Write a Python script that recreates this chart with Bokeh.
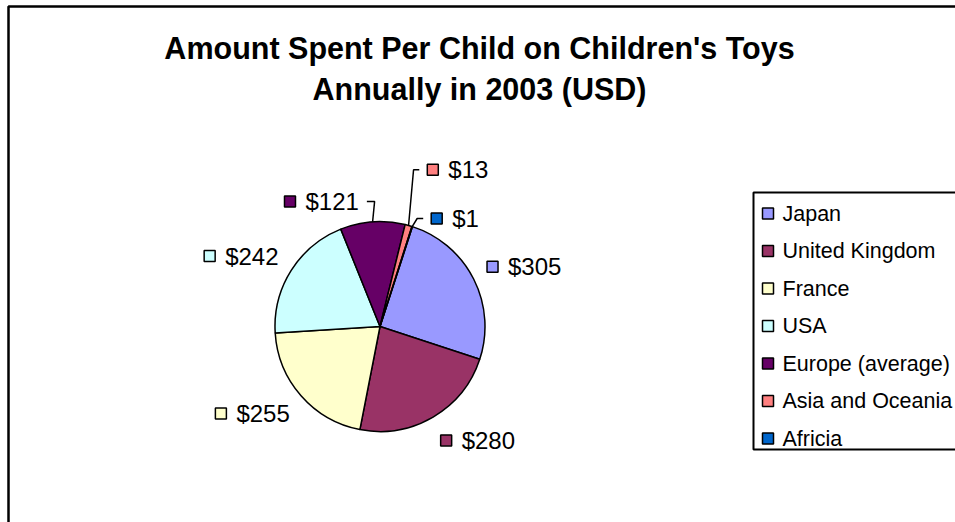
import math
from bokeh.plotting import figure
from bokeh.models import ColumnDataSource, Range1d
from bokeh.embed import file_html
from bokeh.resources import INLINE
from bokeh.core.properties import value

# ---------------- data ----------------
TITLE_LINES = ["Amount Spent Per Child on Children's Toys", "Annually in 2003 (USD)"]
CATEGORIES = ["Japan", "United Kingdom", "France", "USA",
              "Europe (average)", "Asia and Oceania", "Africia"]
VALUES = [305, 280, 255, 242, 121, 13, 1]
LABELS = ["$305", "$280", "$255", "$242", "$121", "$13", "$1"]
COLORS = ["#9999FF", "#993366", "#FFFFCC", "#CCFFFF", "#660066", "#FF8080", "#0066CC"]

# ---------------- layout / style ----------------
W, H = 955, 522


def Y(v):
    return H - v


FONT = "Liberation Sans"
CX, CY, R = 379.5, Y(326), 105
FIRST_ANGLE = 18          # first slice starts 18 deg clockwise from 12 o'clock
LABEL_R = 120             # distance of automatic data labels
LABEL_FS = 24
SQ = 11
SQ_GAP = 10
# manually moved (callout) labels: (radius, angle in degrees) of the label group centre
CALLOUT = {4: (138, 115), 5: (175, 63.6), 6: (131.5, 55.2)}

p = figure(width=W, height=H, x_range=Range1d(0, W), y_range=Range1d(0, H),
           output_backend="svg", toolbar_location=None, min_border=0,
           x_axis_type=None, y_axis_type=None, outline_line_color=None,
           background_fill_color="white", border_fill_color="white")
p.xgrid.visible = False
p.ygrid.visible = False

# chart frame (only top and left edges are visible)
p.line(x=[8, 8, W + 5], y=[Y(H + 5), Y(6), Y(6)], line_color="black", line_width=2.5)

# ---------------- title ----------------
for i, t in enumerate(TITLE_LINES):
    p.text(x=[479], y=[Y(47 + 41 * i)], text=[t], text_font=value(FONT),
           text_font_style="bold", text_font_size="30.5px", text_align="center",
           text_baseline="middle", text_color="black")

# ---------------- pie ----------------
total = float(sum(VALUES))
start = 90 - FIRST_ANGLE
starts, ends, mids = [], [], []
cum = 0.0
for v in VALUES:
    a0 = start - cum / total * 360.0
    a1 = a0 - v / total * 360.0
    cum += v
    starts.append(math.radians(a1))
    ends.append(math.radians(a0))
    mids.append(math.radians((a0 + a1) / 2))

src = ColumnDataSource(dict(start=starts, end=ends, color=COLORS, cat=CATEGORIES))
p.wedge(x=CX, y=CY, radius=R, start_angle="start", end_angle="end",
        direction="anticlock", fill_color="color", line_color="black",
        line_width=1.5, source=src)

# ---------------- data labels ----------------
sq_x, sq_y, sq_c, tx, ty, tt = [], [], [], [], [], []
lead_xs, lead_ys = [], []
for i, (lab, m) in enumerate(zip(LABELS, mids)):
    tw = len(lab) * 0.556 * LABEL_FS
    gw = SQ + SQ_GAP + tw
    gh = LABEL_FS
    if i in CALLOUT:
        r, ang = CALLOUT[i]
        gx = CX + r * math.cos(math.radians(ang))
        gy = CY + r * math.sin(math.radians(ang))
    else:
        ax = CX + LABEL_R * math.cos(m)
        ay = CY + LABEL_R * math.sin(m)
        gx = ax + math.copysign(gw / 2, math.cos(m))
        gy = ay + math.sin(m) * gh / 2
    left = gx - gw / 2
    sq_x.append(left + SQ / 2)
    sq_y.append(gy)
    sq_c.append(COLORS[i])
    tx.append(left + SQ + SQ_GAP)
    ty.append(gy)
    tt.append(lab)
    if i in CALLOUT:
        ex = CX + R * math.cos(m)
        ey = CY + R * math.sin(m)
        if gx < ex:
            sx = left + gw + 8
            elbow = ex + 2
        else:
            sx = left - 8
            elbow = ex + 5
        lead_xs.append([sx, elbow, ex])
        lead_ys.append([gy, gy, ey])

p.multi_line(xs=lead_xs, ys=lead_ys, line_color="black", line_width=1.5)
p.rect(x=sq_x, y=sq_y, width=SQ, height=SQ, fill_color=sq_c,
       line_color="black", line_width=1.5)
p.text(x=tx, y=ty, text=tt, text_font=value(FONT), text_font_size=f"{LABEL_FS}px",
       text_align="left", text_baseline="middle", text_color="black")

# ---------------- legend ----------------
LEG_L, LEG_T, LEG_B = 753, 192, 449
LEG_Y0, LEG_STEP = 213, 37.5
p.quad(left=LEG_L, right=W + 10, top=Y(LEG_T), bottom=Y(LEG_B), fill_color="white",
       line_color="black", line_width=2)
ly = [Y(LEG_Y0 + LEG_STEP * i) for i in range(len(CATEGORIES))]
p.rect(x=[LEG_L + 14.5] * len(CATEGORIES), y=ly, width=SQ, height=SQ,
       fill_color=COLORS, line_color="black", line_width=1.5)
p.text(x=[LEG_L + 29] * len(CATEGORIES), y=ly, text=CATEGORIES, text_font=value(FONT),
       text_font_size="21.5px", text_align="left", text_baseline="middle",
       text_color="black")

open("out.html", "w").write(file_html(p, INLINE))
